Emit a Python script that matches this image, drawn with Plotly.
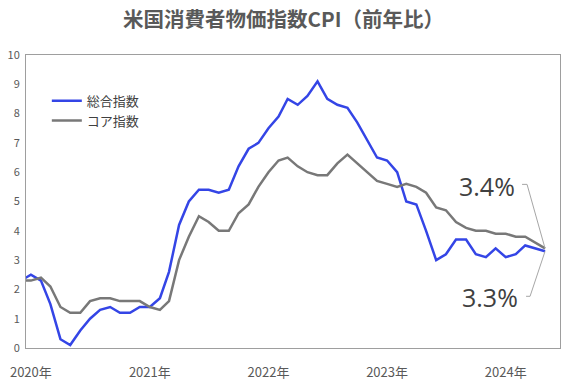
import pandas as pd
import plotly.graph_objects as go

months = pd.date_range("2019-12-01", periods=54, freq="MS").strftime("%Y-%m-%d").tolist()

headline = [2.3,
            2.5, 2.3, 1.5, 0.3, 0.1, 0.6, 1.0, 1.3, 1.4, 1.2, 1.2, 1.4,
            1.4, 1.7, 2.6, 4.2, 5.0, 5.4, 5.4, 5.3, 5.4, 6.2, 6.8, 7.0,
            7.5, 7.9, 8.5, 8.3, 8.6, 9.1, 8.5, 8.3, 8.2, 7.7, 7.1, 6.5,
            6.4, 6.0, 5.0, 4.9, 4.0, 3.0, 3.2, 3.7, 3.7, 3.2, 3.1, 3.4,
            3.1, 3.2, 3.5, 3.4, 3.3]
core = [2.3,
        2.3, 2.4, 2.1, 1.4, 1.2, 1.2, 1.6, 1.7, 1.7, 1.6, 1.6, 1.6,
        1.4, 1.3, 1.6, 3.0, 3.8, 4.5, 4.3, 4.0, 4.0, 4.6, 4.9, 5.5,
        6.0, 6.4, 6.5, 6.2, 6.0, 5.9, 5.9, 6.3, 6.6, 6.3, 6.0, 5.7,
        5.6, 5.5, 5.6, 5.5, 5.3, 4.8, 4.7, 4.3, 4.1, 4.0, 4.0, 3.9,
        3.9, 3.8, 3.8, 3.6, 3.4]

year_ticks = ["2020-01-01", "2021-01-01", "2022-01-01", "2023-01-01", "2024-01-01"]
year_labels = ["2020年", "2021年", "2022年", "2023年", "2024年"]
series_names = ["総合指数", "コア指数"]

BLUE = "#3445E6"
GRAY = "#787878"
FONT = "Noto Sans CJK JP"

fig = go.Figure()
fig.add_trace(go.Scatter(x=months, y=headline, mode="lines", name=series_names[0],
                         line=dict(color=BLUE, width=2.5)))
fig.add_trace(go.Scatter(x=months, y=core, mode="lines", name=series_names[1],
                         line=dict(color=GRAY, width=2.5)))

last_x = months[-1]
fig.add_annotation(x=last_x, y=core[-1], text=f"{core[-1]:.1f}%", showarrow=False,
                   xanchor="right", yanchor="middle", xshift=-28, yshift=62,
                   font=dict(family="Open Sans", size=25, color="#404040"))
fig.add_annotation(x=last_x, y=headline[-1], text=f"{headline[-1]:.1f}%", showarrow=False,
                   xanchor="right", yanchor="middle", xshift=-25, yshift=-46,
                   font=dict(family="Open Sans", size=25, color="#404040"))

fig.add_shape(type="path", xref="x", yref="y", xsizemode="pixel", ysizemode="pixel",
              xanchor=last_x, yanchor=core[-1],
              path="M 0 0 L -18 64 L -23 64", line=dict(color="#a6a6a6", width=1))
fig.add_shape(type="path", xref="x", yref="y", xsizemode="pixel", ysizemode="pixel",
              xanchor=last_x, yanchor=headline[-1],
              path="M 0 0 L -15 -45 L -19 -45", line=dict(color="#a6a6a6", width=1))

fig.update_layout(
    width=567, height=386,
    margin=dict(l=26, r=7, t=55, b=38, autoexpand=False),
    paper_bgcolor="white", plot_bgcolor="white",
    font=dict(family=FONT, color="#595959"),
    title=dict(text="<b>米国消費者物価指数CPI（前年比）</b>", x=0.5, xanchor="center",
               y=0.948, yanchor="middle",
               font=dict(family=FONT, size=20.5, color="#595959")),
    legend=dict(x=0.039, y=0.895, xanchor="left", yanchor="top",
                bgcolor="rgba(0,0,0,0)", font=dict(family=FONT, size=13, color="#404040"),
                tracegroupgap=0, itemwidth=30),
    showlegend=True,
)
fig.update_xaxes(type="date", range=["2019-12-17", "2024-06-16"],
                 tickvals=year_ticks, ticktext=year_labels, automargin=False,
                 tickfont=dict(family=FONT, size=13, color="#595959"),
                 showgrid=False, zeroline=False, showline=True, mirror=True,
                 linecolor="#9e9e9e", linewidth=1, ticks="", ticklabelstandoff=12)
fig.update_yaxes(range=[0, 10], dtick=1, showgrid=False, zeroline=False, automargin=False,
                 showline=True, mirror=True, linecolor="#9e9e9e", linewidth=1,
                 tickfont=dict(family=FONT, size=11, color="#595959"), ticks="",
                 ticklabelstandoff=3)

fig.write_html("out.html", config={"displayModeBar": False},
               post_script="document.body.style.margin='0';document.body.style.overflow='hidden';")
